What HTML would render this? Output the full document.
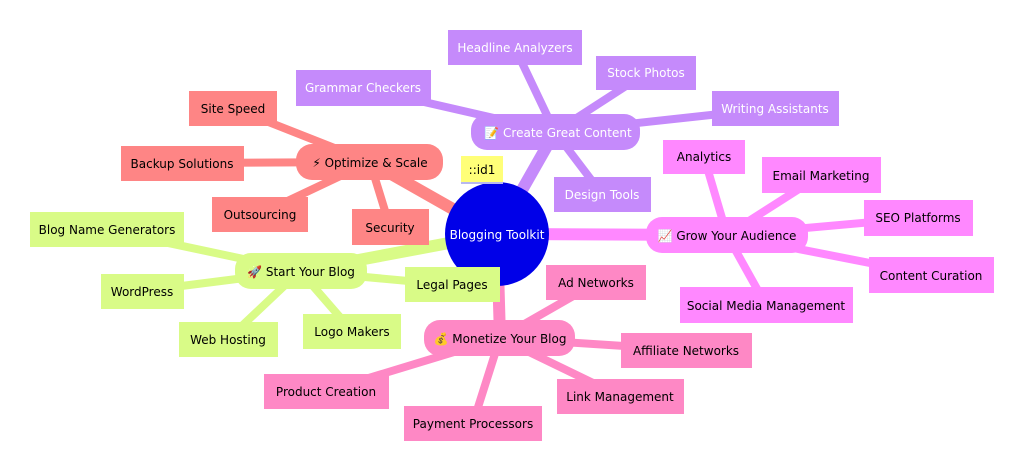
<!DOCTYPE html>
<html><head><meta charset="utf-8"><style>
html,body{margin:0;padding:0;background:#fff;width:1024px;height:471px;overflow:hidden}
svg text{font-family:"DejaVu Sans","Liberation Sans",sans-serif;font-size:12px;text-anchor:middle;dominant-baseline:central}
</style></head><body>
<svg width="1024" height="471" xmlns="http://www.w3.org/2000/svg">
<g stroke-linecap="round">
<!-- root to sections -->
<line x1="497" y1="234" x2="555" y2="132" stroke="#c58afb" stroke-width="12"/>
<line x1="497" y1="234" x2="370" y2="162" stroke="#fe8585" stroke-width="12"/>
<line x1="497" y1="234" x2="300" y2="271" stroke="#d9fb87" stroke-width="12"/>
<line x1="497" y1="234" x2="727" y2="235" stroke="#ff88ff" stroke-width="12"/>
<line x1="497" y1="234" x2="500" y2="338" stroke="#fe88c5" stroke-width="12"/>
<!-- purple leaves -->
<g stroke="#c58afb" stroke-width="8">
<line x1="555" y1="132" x2="515" y2="48"/><line x1="555" y1="132" x2="646" y2="73"/>
<line x1="555" y1="132" x2="363" y2="88"/><line x1="555" y1="132" x2="775" y2="108"/>
<line x1="555" y1="132" x2="602" y2="194"/></g>
<g stroke="#fe8585" stroke-width="8">
<line x1="370" y1="162" x2="233" y2="108"/><line x1="370" y1="162" x2="182" y2="163"/>
<line x1="370" y1="162" x2="260" y2="214"/><line x1="370" y1="162" x2="390" y2="227"/></g>
<g stroke="#d9fb87" stroke-width="8">
<line x1="300" y1="271" x2="107" y2="230"/><line x1="300" y1="271" x2="142" y2="291"/>
<line x1="300" y1="271" x2="228" y2="339"/><line x1="300" y1="271" x2="352" y2="331"/>
<line x1="300" y1="271" x2="452" y2="285"/></g>
<g stroke="#ff88ff" stroke-width="8">
<line x1="727" y1="235" x2="704" y2="157"/><line x1="727" y1="235" x2="821" y2="175"/>
<line x1="727" y1="235" x2="918" y2="218"/><line x1="727" y1="235" x2="931" y2="275"/>
<line x1="727" y1="235" x2="766" y2="305"/></g>
<g stroke="#fe88c5" stroke-width="8">
<line x1="500" y1="338" x2="596" y2="283"/><line x1="500" y1="338" x2="686" y2="350"/>
<line x1="500" y1="338" x2="620" y2="396"/><line x1="500" y1="338" x2="473" y2="423"/>
<line x1="500" y1="338" x2="326" y2="391"/></g>
</g>
<!-- root -->
<circle cx="497" cy="234" r="52" fill="#0000e8"/>
<text x="497" y="235" fill="#fff">Blogging Toolkit</text>
<rect x="461" y="156" width="42" height="27" fill="#ffff78"/>
<line x1="461" y1="183" x2="503" y2="183" stroke="#b8b8f0" stroke-width="2"/>
<text x="482" y="170" fill="#000">::id1</text>
<!-- sections -->
<rect x="471" y="114" width="169" height="36" rx="16" fill="#c58afb"/>
<text x="558" y="133" fill="#fff">📝 Create Great Content</text>
<rect x="296" y="144" width="147" height="36" rx="16" fill="#fe8585"/>
<text x="370" y="163" fill="#000">⚡ Optimize &amp; Scale</text>
<rect x="235" y="253" width="132" height="36" rx="16" fill="#d9fb87"/>
<text x="301" y="272" fill="#000">🚀 Start Your Blog</text>
<rect x="646" y="217" width="162" height="36" rx="16" fill="#ff88ff"/>
<text x="727" y="236" fill="#000">📈 Grow Your Audience</text>
<rect x="424" y="320" width="151" height="36" rx="16" fill="#fe88c5"/>
<text x="500" y="339" fill="#000">💰 Monetize Your Blog</text>
<!-- purple leaves -->
<g fill="#c58afb">
<rect x="448" y="30" width="134" height="35"/><rect x="596" y="56" width="100" height="34"/>
<rect x="296" y="70" width="135" height="36"/><rect x="712" y="91" width="127" height="35"/>
<rect x="554" y="177" width="97" height="35"/></g>
<g fill="#fff">
<text x="515" y="48">Headline Analyzers</text><text x="646" y="73">Stock Photos</text>
<text x="363" y="88">Grammar Checkers</text><text x="775" y="109">Writing Assistants</text>
<text x="602" y="195">Design Tools</text></g>
<g fill="#fe8585">
<rect x="189" y="91" width="88" height="35"/><rect x="121" y="146" width="123" height="35"/>
<rect x="212" y="197" width="96" height="35"/><rect x="352" y="209" width="77" height="36"/></g>
<g fill="#000">
<text x="233" y="109">Site Speed</text><text x="182" y="164">Backup Solutions</text>
<text x="260" y="215">Outsourcing</text><text x="390" y="228">Security</text></g>
<g fill="#d9fb87">
<rect x="30" y="212" width="154" height="35"/><rect x="101" y="274" width="83" height="35"/>
<rect x="179" y="322" width="99" height="35"/><rect x="303" y="314" width="98" height="35"/>
<rect x="405" y="267" width="95" height="35"/></g>
<g fill="#000">
<text x="107" y="230">Blog Name Generators</text><text x="142" y="292">WordPress</text>
<text x="228" y="340">Web Hosting</text><text x="352" y="332">Logo Makers</text>
<text x="452" y="285">Legal Pages</text></g>
<g fill="#ff88ff">
<rect x="663" y="140" width="82" height="34"/><rect x="762" y="157" width="119" height="36"/>
<rect x="864" y="200" width="109" height="36"/><rect x="869" y="257" width="125" height="36"/>
<rect x="680" y="287" width="173" height="36"/></g>
<g fill="#000">
<text x="704" y="157">Analytics</text><text x="821" y="176">Email Marketing</text>
<text x="918" y="218">SEO Platforms</text><text x="931" y="276">Content Curation</text>
<text x="766" y="306">Social Media Management</text></g>
<g fill="#fe88c5">
<rect x="546" y="265" width="100" height="35"/><rect x="621" y="333" width="131" height="35"/>
<rect x="557" y="379" width="127" height="35"/><rect x="404" y="406" width="138" height="35"/>
<rect x="264" y="374" width="125" height="35"/></g>
<g fill="#000">
<text x="596" y="283">Ad Networks</text><text x="686" y="351">Affiliate Networks</text>
<text x="620" y="397">Link Management</text><text x="473" y="424">Payment Processors</text>
<text x="326" y="392">Product Creation</text></g>
</svg>
</body></html>
